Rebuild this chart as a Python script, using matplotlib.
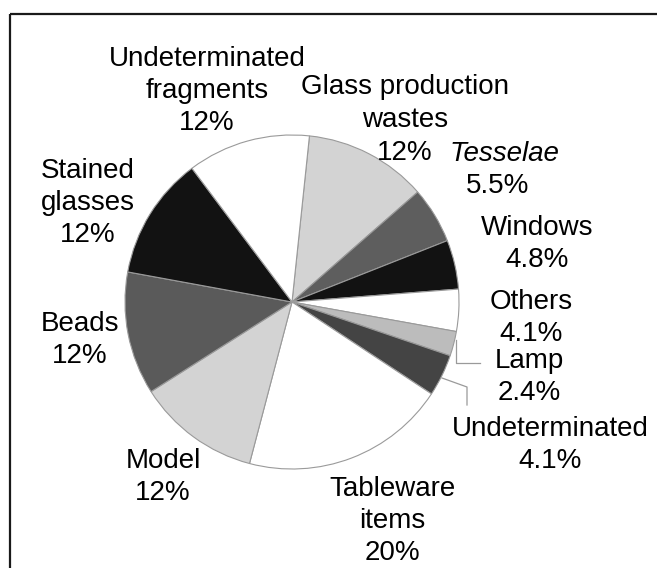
import matplotlib.pyplot as plt

plt.rcParams['font.family'] = ['Liberation Sans', 'DejaVu Sans']

# Categories clockwise from the top of the pie
categories = ['Glass production wastes', 'Tesselae', 'Windows', 'Others', 'Lamp',
              'Undeterminated', 'Tableware items', 'Model', 'Beads',
              'Stained glasses', 'Undeterminated fragments']
values = [12, 5.5, 4.8, 4.1, 2.4, 4.1, 20, 12, 12, 12, 12]
label_names = ['Glass production\nwastes', 'Tesselae', 'Windows', 'Others', 'Lamp',
               'Undeterminated', 'Tableware\nitems', 'Model', 'Beads',
               'Stained\nglasses', 'Undeterminated\nfragments']
colors = ['#d3d3d3', '#5e5e5e', '#121212', '#ffffff', '#bcbcbc',
          '#444444', '#ffffff', '#d3d3d3', '#5a5a5a', '#121212', '#ffffff']

W, H = 657, 568

def py(y):
    # pixel row -> data y
    return H - y

fig = plt.figure(figsize=(W / 100, H / 100), dpi=100)
ax = fig.add_axes([0, 0, 1, 1])

ax.pie(values, colors=colors, startangle=84, counterclock=False,
       center=(292, py(302)), radius=167, frame=True,
       wedgeprops=dict(edgecolor='#9a9a9a', linewidth=0.8))
ax.set_xlim(0, W)
ax.set_ylim(0, H)
ax.set_aspect('equal')
ax.axis('off')

# frame lines (top and left)
ax.plot([9.5, W], [py(14), py(14)], color='#1a1a1a', lw=1.6, solid_capstyle='butt')
ax.plot([9.5, 9.5], [py(14), 0], color='#1a1a1a', lw=1.6, solid_capstyle='butt')

# label block centres in pixels
label_pos = [(405, 117), (504, 167), (537, 241), (531, 315), (529, 374),
             (550, 442), (392, 518), (163, 474), (80, 337), (88, 200), (207, 88)]

fs = 20
lh = 32.5      # line height in pixels
half_cap = 10  # baseline sits this far below the visual middle of a line

for name, v, (x, y) in zip(label_names, values, label_pos):
    lines = name.split('\n') + [f'{v:g}%']
    n = len(lines)
    for k, line in enumerate(lines):
        ly = y + (k - (n - 1) / 2) * lh + half_cap
        is_pct = k == n - 1
        style = 'italic' if name == 'Tesselae' and not is_pct else 'normal'
        lx = x - 6 if name == 'Tesselae' and is_pct else x
        ax.text(lx, py(ly), line, ha='center', va='baseline', fontsize=fs, style=style)

# leader lines for the small slices
ax.plot([456, 456, 480], [py(340), py(363), py(363)], color='#9a9a9a', lw=0.9)
ax.plot([442, 467, 467], [py(378), py(387), py(405)], color='#9a9a9a', lw=0.9)

fig.savefig('out.png', dpi=100)
